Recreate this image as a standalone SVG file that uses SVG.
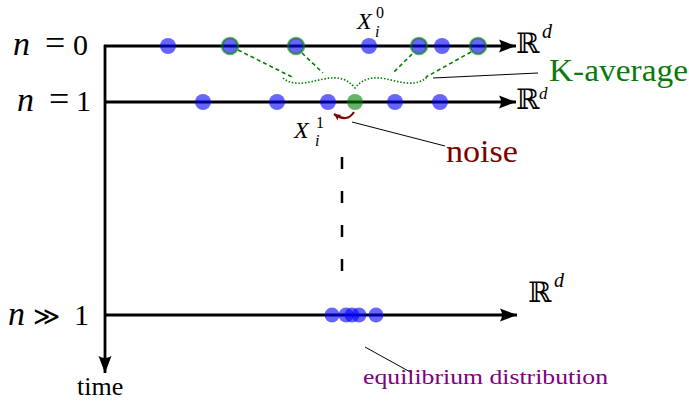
<svg xmlns="http://www.w3.org/2000/svg" width="689" height="408" viewBox="0 0 689 408">
<defs>
<marker id="ah" markerWidth="20" markerHeight="16" viewBox="-18 -8 20 16" refX="0" refY="0" orient="auto" markerUnits="userSpaceOnUse">
<path d="M0,0 L-17,-6.5 Q-13,0 -17,6.5 Z" fill="#000"/>
</marker>
<marker id="rh" markerWidth="10" markerHeight="10" viewBox="-8 -5 10 10" refX="0" refY="0" orient="auto" markerUnits="userSpaceOnUse">
<path d="M0,0 L-7,-3.5 L-5,0 L-7,3.5 Z" fill="#800000"/>
</marker>
</defs>
<style>
.ax{stroke:#000;stroke-width:2.8;fill:none}
.dot{fill:#0000ff;fill-opacity:0.6}
.ring{fill:none;stroke:#008000;stroke-opacity:0.6;stroke-width:2.5}
.gdot{fill:#008000;fill-opacity:0.6}
.dash{stroke:#008000;stroke-width:1.6;stroke-dasharray:4 3;fill:none}
.dots{stroke:#008000;stroke-width:1.6;stroke-dasharray:1.5 1.8;fill:none}
.lead{stroke:#000;stroke-width:1;fill:none}
</style>
<g id="axes">
<line class="ax" x1="105" y1="45" x2="105" y2="373" marker-end="url(#ah)"/>
<line class="ax" x1="104" y1="46" x2="516" y2="46" marker-end="url(#ah)"/>
<line class="ax" x1="104" y1="102" x2="516" y2="102" marker-end="url(#ah)"/>
<line class="ax" x1="104" y1="315" x2="517" y2="315" marker-end="url(#ah)"/>
<line x1="342" y1="157" x2="342" y2="271" stroke="#000" stroke-width="2.5" stroke-dasharray="12 22"/>
</g>
<g id="labels" font-family="Liberation Serif" fill="#000">
<text font-style="italic" x="13" y="55" font-size="34">n</text>
<text x="45" y="55" font-size="36">=</text>
<text x="73" y="55" font-size="30">0</text>
<text font-style="italic" x="17" y="111" font-size="34">n</text>
<text x="49" y="111" font-size="36">=</text>
<text x="76" y="111" font-size="30">1</text>
<text font-style="italic" x="8" y="325" font-size="34">n</text>
<text font-family="DejaVu Serif" x="33" y="325" font-size="26">≫</text>
<text x="74" y="325" font-size="30">1</text>
<text x="77" y="395" font-size="26">time</text>
</g>
<g id="rd0"><text font-family="DejaVu Serif" x="516" y="53" font-size="28">ℝ</text><text font-family="Liberation Serif" font-style="italic" x="542" y="38" font-size="20">d</text></g>
<g id="rd1"><text font-family="DejaVu Serif" x="516" y="109" font-size="28">ℝ</text><text font-family="Liberation Serif" font-style="italic" x="539" y="99" font-size="17">d</text></g>
<g id="rd2"><text font-family="DejaVu Serif" x="528" y="302" font-size="28">ℝ</text><text font-family="Liberation Serif" font-style="italic" x="554" y="287" font-size="20">d</text></g>
<g id="row0">
<circle class="dot" cx="168" cy="46" r="8"/>
<circle class="dot" cx="230" cy="46" r="8"/>
<circle class="dot" cx="296" cy="46" r="8"/>
<circle class="dot" cx="369" cy="46" r="8"/>
<circle class="dot" cx="419" cy="46" r="8"/>
<circle class="dot" cx="442" cy="46" r="8"/>
<circle class="dot" cx="478" cy="46" r="8"/>
<circle class="ring" cx="230" cy="46" r="8"/>
<circle class="ring" cx="296" cy="46" r="8"/>
<circle class="ring" cx="419" cy="46" r="8"/>
<circle class="ring" cx="478" cy="46" r="8"/>
</g>
<g id="X0" font-family="Liberation Serif"><text font-style="italic" x="357" y="29" font-size="24">X</text><text x="376" y="18" font-size="16">0</text><text font-style="italic" x="375" y="37" font-size="16">i</text></g>
<g id="row1">
<circle class="dot" cx="203" cy="102" r="8"/>
<circle class="dot" cx="277" cy="102" r="8"/>
<circle class="dot" cx="328" cy="102" r="8"/>
<circle class="gdot" cx="355" cy="102" r="8"/>
<circle class="dot" cx="395" cy="102" r="8"/>
<circle class="dot" cx="440" cy="102" r="8"/>
</g>
<g id="X1" font-family="Liberation Serif"><text font-style="italic" x="294" y="138" font-size="24">X</text><text x="316" y="128" font-size="16">1</text><text font-style="italic" x="315" y="146" font-size="16">i</text></g>
<g id="rowN">
<circle class="dot" cx="332" cy="315" r="7.5"/>
<circle class="dot" cx="346" cy="315" r="7.5"/>
<circle class="dot" cx="352" cy="315" r="7.5"/>
<circle class="dot" cx="359" cy="315" r="7.5"/>
<circle class="dot" cx="376" cy="315" r="7.5"/>
</g>
<g id="connectors">
<line class="dash" x1="238" y1="50" x2="294" y2="78"/>
<line class="dash" x1="302" y1="53" x2="323" y2="73"/>
<line class="dash" x1="412" y1="54" x2="393" y2="73"/>
<line class="dash" x1="471" y1="52" x2="426" y2="77"/>
<path class="dots" d="M283,78 C290,84 300,84 310,82 C325,79 342,72 355,88 C368,72 385,79 400,82 C410,84 420,84 427,77"/>
<line class="lead" x1="433" y1="78" x2="538" y2="73"/>
<line class="lead" x1="352" y1="122" x2="445" y2="146"/>
<line class="lead" x1="365" y1="347" x2="412" y2="373"/>
<path d="M354,112 Q347,123 334,114" fill="none" stroke="#800000" stroke-width="2.2" marker-end="url(#rh)"/>
</g>
<g id="kavg"><text font-family="Liberation Serif" x="549" y="81" font-size="32" fill="#0a7a0a" textLength="139" lengthAdjust="spacingAndGlyphs">K-average</text></g>
<g id="noise"><text font-family="Liberation Serif" x="446" y="162" font-size="32" fill="#800000" textLength="72" lengthAdjust="spacingAndGlyphs">noise</text></g>
<g id="equil"><text font-family="Liberation Serif" x="363" y="384" font-size="21" fill="#800080" textLength="245" lengthAdjust="spacingAndGlyphs">equilibrium distribution</text></g>
</svg>
